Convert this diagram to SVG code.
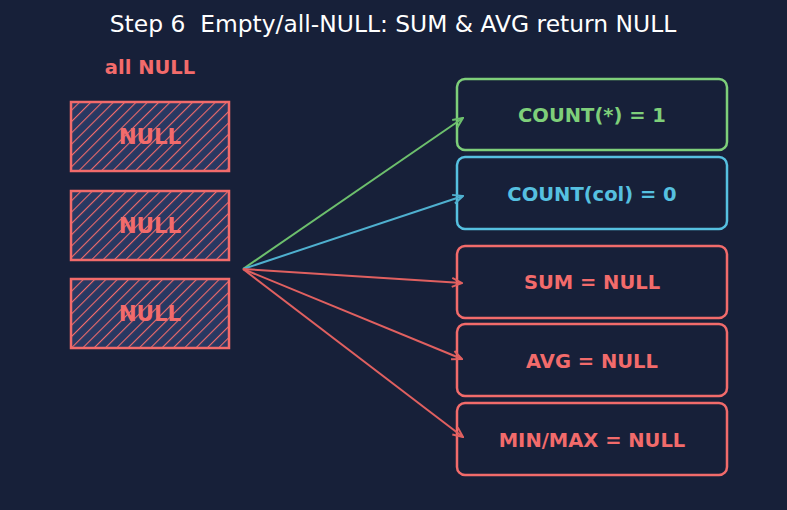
<svg xmlns="http://www.w3.org/2000/svg" width="787" height="510" viewBox="0 0 787 510">
<defs>
<pattern id="hatch" patternUnits="userSpaceOnUse" width="8" height="8" patternTransform="rotate(45)">
<rect width="8" height="8" fill="#283862"/>
<line x1="0" y1="0" x2="0" y2="8" stroke="#f26b6b" stroke-width="2.2"/>
</pattern>
<marker id="ag" viewBox="0 0 12 12" refX="11" refY="6" markerWidth="12" markerHeight="12" markerUnits="userSpaceOnUse" orient="auto"><path d="M1,1.5 L11,6 L1,10.5" fill="none" stroke="#6dbf6d" stroke-width="2"/></marker>
<marker id="ab" viewBox="0 0 12 12" refX="11" refY="6" markerWidth="12" markerHeight="12" markerUnits="userSpaceOnUse" orient="auto"><path d="M1,1.5 L11,6 L1,10.5" fill="none" stroke="#4fb0cf" stroke-width="2"/></marker>
<marker id="ar" viewBox="0 0 12 12" refX="11" refY="6" markerWidth="12" markerHeight="12" markerUnits="userSpaceOnUse" orient="auto"><path d="M1,1.5 L11,6 L1,10.5" fill="none" stroke="#e06060" stroke-width="2"/></marker>
</defs>
<style>
text{font-family:"DejaVu Sans","Liberation Sans",sans-serif;text-anchor:middle;dominant-baseline:central}
.title{fill:#ffffff;font-size:23.4px;white-space:pre}
.lbl{font-weight:bold;font-size:19.5px}
.null{fill:url(#hatch);stroke:#f26b6b;stroke-width:2.5}
.nt{fill:#f26b6b;font-weight:bold;font-size:21.4px}
.box{fill:#172039;stroke-width:2.5}
.g{stroke:#7ecf7a}.b{stroke:#56c0e0}.r{stroke:#f26b6b}
.tg{fill:#7ecf7a}.tb{fill:#56c0e0}.tr{fill:#f26b6b}
.con{fill:none;stroke-width:2}
</style>
<rect width="787" height="510" fill="#172039"/>
<text class="title" x="393" y="24" xml:space="preserve">Step 6  Empty/all-NULL: SUM &amp; AVG return NULL</text>
<text class="tr" x="150" y="67" font-weight="bold" font-size="19.5">all NULL</text>
<g id="null1"><rect class="null" x="71" y="102" width="158" height="69"/><text class="nt" x="150" y="136">NULL</text></g>
<g id="null2"><rect class="null" x="71" y="191" width="158" height="69"/><text class="nt" x="150" y="225">NULL</text></g>
<g id="null3"><rect class="null" x="71" y="279" width="158" height="69"/><text class="nt" x="150" y="313">NULL</text></g>
<g id="count_star"><rect class="box g" x="457" y="79" width="270" height="71" rx="8"/><text class="lbl tg" x="592" y="115">COUNT(*) = 1</text></g>
<g id="count_col"><rect class="box b" x="457" y="157" width="270" height="72" rx="8"/><text class="lbl tb" x="592" y="194">COUNT(col) = 0</text></g>
<g id="sum"><rect class="box r" x="457" y="246" width="270" height="72" rx="8"/><text class="lbl tr" x="592" y="282">SUM = NULL</text></g>
<g id="avg"><rect class="box r" x="457" y="324" width="270" height="72" rx="8"/><text class="lbl tr" x="592" y="361">AVG = NULL</text></g>
<g id="minmax"><rect class="box r" x="457" y="403" width="270" height="72" rx="8"/><text class="lbl tr" x="592" y="440">MIN/MAX = NULL</text></g>
<g id="connectors">
<line class="con" stroke="#6dbf6d" x1="243" y1="269" x2="463" y2="118" marker-end="url(#ag)"/>
<line class="con" stroke="#4fb0cf" x1="243" y1="269" x2="463" y2="196" marker-end="url(#ab)"/>
<line class="con" stroke="#e06060" x1="243" y1="269" x2="462" y2="283" marker-end="url(#ar)"/>
<line class="con" stroke="#e06060" x1="243" y1="269" x2="462" y2="359" marker-end="url(#ar)"/>
<line class="con" stroke="#e06060" x1="243" y1="269" x2="463" y2="437" marker-end="url(#ar)"/>
</g>
</svg>
